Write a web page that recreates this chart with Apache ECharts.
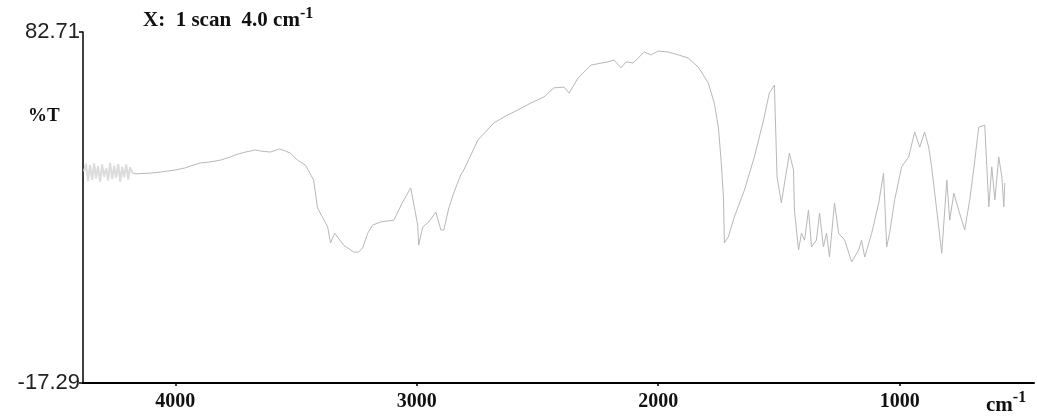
<!DOCTYPE html>
<html>
<head>
<meta charset="utf-8">
<script src="https://cdn.jsdelivr.net/npm/echarts@6.0.0/dist/echarts.min.js"></script>
<style>html,body{margin:0;padding:0;background:#fff;}#c{width:1037px;height:418px;}</style>
</head>
<body>
<div id="c"></div>
<script>
// Wavenumbers (cm-1) and %T values
const noiseWave = [4378,4370,4361,4353,4344,4336,4328,4320,4311,4303,4295,4286,4278,4270,4261,4253,4245,4236,4228,4220,4212,4203,4195,4187,4178];
const noiseT    = [43.0,45.2,40.2,44.8,40.6,45.3,41.0,44.5,40.0,45.0,41.5,44.0,40.4,45.4,40.8,44.6,41.2,45.1,40.1,44.3,41.3,45.0,40.7,44.2,42.6];

const waveNumbers = [4166,4104,4062,4000,3959,3938,3896,3855,3813,3772,3751,3710,3668,3647,3606,3568,3544,3523,3494,3461,3427,3411,3369,3357,3340,3303,3261,3241,3224,3203,3183,3149,3095,3058,3025,2996,2992,2975,2950,2921,2900,2888,2867,2847,2818,2805,2747,2681,2623,2581,2527,2473,2432,2390,2369,2332,2278,2208,2183,2154,2133,2104,2083,2058,2029,2000,1959,1917,1876,1834,1793,1768,1751,1739,1730,1726,1710,1685,1643,1602,1564,1540,1519,1511,1508,1490,1477,1457,1440,1436,1419,1407,1394,1378,1365,1345,1332,1316,1303,1291,1270,1253,1228,1199,1170,1158,1145,1116,1087,1067,1054,1042,1021,992,963,938,917,897,880,868,855,826,805,793,776,756,731,710,689,673,648,631,619,606,590,577,569,565];
const transmittance = [42.3,42.5,42.8,43.4,44.0,44.5,45.4,45.7,46.2,47.1,47.7,48.5,49.1,48.8,48.5,49.4,48.8,48.2,46.2,44.8,40.5,32.6,27.2,22.6,25.4,22.0,20.0,20.0,21.2,25.4,27.7,28.6,29.1,34.3,38.3,27.7,22.0,27.2,28.6,31.4,26.3,26.3,32.6,36.8,42.0,43.4,51.9,56.8,59.1,60.5,62.5,64.2,66.8,67.0,65.3,69.6,73.3,74.2,74.7,72.5,74.2,73.9,75.3,77.0,76.2,77.3,77.0,76.2,75.3,72.7,68.2,62.5,55.6,45.4,35.7,22.6,24.3,30.0,37.7,47.1,57.6,65.3,67.6,67.3,41.4,34.0,39.7,48.2,43.4,32.0,20.6,25.4,23.4,32.0,21.5,23.4,31.1,21.5,25.4,18.6,34.0,25.4,23.4,17.2,20.6,23.4,18.6,25.4,34.0,42.5,21.5,25.4,34.9,44.3,47.1,54.2,49.9,54.2,49.9,44.3,36.8,19.7,40.5,29.1,36.8,32.0,26.3,34.9,46.2,55.6,56.2,32.9,44.3,34.9,47.1,41.4,32.9,39.7];

const xTickLabels = [4000, 3000, 2000, 1000];
const yMin = -17.29, yMax = 82.71;

const chart = echarts.init(document.getElementById('c'), null, {renderer: 'canvas'});
const serif = '"Liberation Serif", "DejaVu Serif", serif';
const sans = '"Liberation Sans", Arial, sans-serif';

chart.setOption({
  animation: false,
  backgroundColor: '#ffffff',
  grid: {left: 83, right: 3, top: 32, bottom: 35},
  xAxis: {
    type: 'value', inverse: true, min: 444, max: 4382,
    axisLine: {show: true, onZero: false, lineStyle: {color: '#000', width: 2}},
    axisTick: {show: true, customValues: xTickLabels, length: 3, lineStyle: {color: '#000', width: 1.5}},
    axisLabel: {show: true, customValues: xTickLabels, color: '#111', fontFamily: serif, fontWeight: 'bold', fontSize: 20, margin: 9,
      formatter: v => String(v)},
    splitLine: {show: false}
  },
  yAxis: {
    type: 'value', min: yMin, max: yMax, interval: 100,
    axisLine: {show: true, onZero: false, lineStyle: {color: '#000', width: 1.5}},
    axisTick: {show: true, length: 4, lineStyle: {color: '#000', width: 1.5}},
    axisLabel: {show: true, color: '#222', fontFamily: sans, fontSize: 22, margin: 3,
      formatter: v => v.toFixed(2)},
    splitLine: {show: false}
  },
  series: [
    {type: 'line', data: noiseWave.map((w, i) => [w, noiseT[i]]), showSymbol: false,
      lineStyle: {color: '#dcdcdc', width: 2}, silent: true},
    {type: 'line', data: [[noiseWave[noiseWave.length-1], noiseT[noiseT.length-1]]].concat(waveNumbers.map((w, i) => [w, transmittance[i]])),
      showSymbol: false, lineStyle: {color: '#b8b8b8', width: 1}, silent: true}
  ],
  graphic: [
    {type: 'text', left: 143, top: 6, style: {
      text: '{a|X:  1 scan  4.0 cm}{s|-1}',
      rich: {
        a: {fontFamily: serif, fontWeight: 'bold', fontSize: 21, fill: '#111', verticalAlign: 'bottom'},
        s: {fontFamily: serif, fontWeight: 'bold', fontSize: 16, fill: '#111', padding: [0,0,9,0], verticalAlign: 'bottom'}
      }}},
    {type: 'text', left: 28, top: 107, style: {text: '%T', fontFamily: serif, fontWeight: 'bold', fontSize: 19, fill: '#111'}},
    {type: 'text', left: 986, top: 390, style: {
      text: '{a|cm}{s|-1}',
      rich: {
        a: {fontFamily: serif, fontWeight: 'bold', fontSize: 21, fill: '#111', verticalAlign: 'bottom'},
        s: {fontFamily: serif, fontWeight: 'bold', fontSize: 16, fill: '#111', padding: [0,0,10,0], verticalAlign: 'bottom'}
      }}}
  ]
});
</script>
</body>
</html>
